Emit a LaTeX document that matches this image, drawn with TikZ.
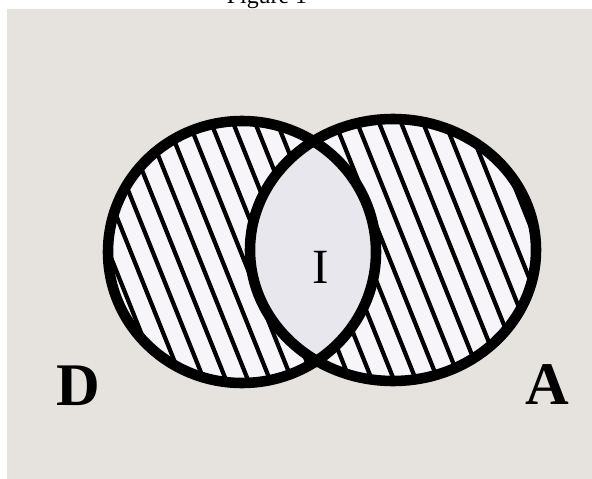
\documentclass[tikz,border=0pt]{standalone}
\usepackage{fontspec}
\setmainfont{Liberation Serif}
\usepackage{tikz}

\definecolor{paper}{HTML}{E6E3DF}
\definecolor{lens}{HTML}{E9E7EE}
\definecolor{hatchbg}{HTML}{F7F5FA}

\begin{document}
\begin{tikzpicture}[x=0.025cm, y=-0.025cm]

% Frame (1 unit = 1 px of the original)
\useasboundingbox (0,0) rectangle (592,479);
\fill[paper] (7,9) rectangle (592,479);

% Caption, cut at the top
\node[anchor=base, font=\fontsize{17}{17}\selectfont, inner sep=0] (cap) at (267,4) {Figure 1};

% Centres of the two circles
\coordinate (CD) at (242,252);
\coordinate (CA) at (393,250);

% White ground under the hatching
\fill[hatchbg] (CD) ellipse [x radius=134, y radius=131];
\fill[hatchbg] (CA) ellipse [x radius=143, y radius=131];

% Hatching, left circle
\begin{scope}
  \clip (CD) ellipse [x radius=134, y radius=131];
  \foreach \u in {-40,-18,...,420}
    \draw[line width=3pt] (\u,100) -- (\u+120,400);
\end{scope}

% Hatching, right circle
\begin{scope}
  \clip (CA) ellipse [x radius=143, y radius=131];
  \foreach \u in {150,172,...,600}
    \draw[line width=3pt] (\u,100) -- (\u+120,400);
\end{scope}

% Common part I (no hatching)
\begin{scope}
  \clip (CD) ellipse [x radius=134, y radius=131];
  \fill[lens] (CA) ellipse [x radius=143, y radius=131];
\end{scope}

% Outlines
\draw[line width=7.5pt] (CD) ellipse [x radius=134, y radius=131];
\draw[line width=7.5pt] (CA) ellipse [x radius=143, y radius=131];

% Labels
\node[font=\fontsize{35}{35}\selectfont, inner sep=0] (I) at (321,267) {I};
\node[font=\fontsize{43}{43}\selectfont\bfseries, inner sep=0] (D) at (78,386) {D};
\node[font=\fontsize{43}{43}\selectfont\bfseries, inner sep=0] (A) at (547,385) {A};

\end{tikzpicture}
\end{document}
